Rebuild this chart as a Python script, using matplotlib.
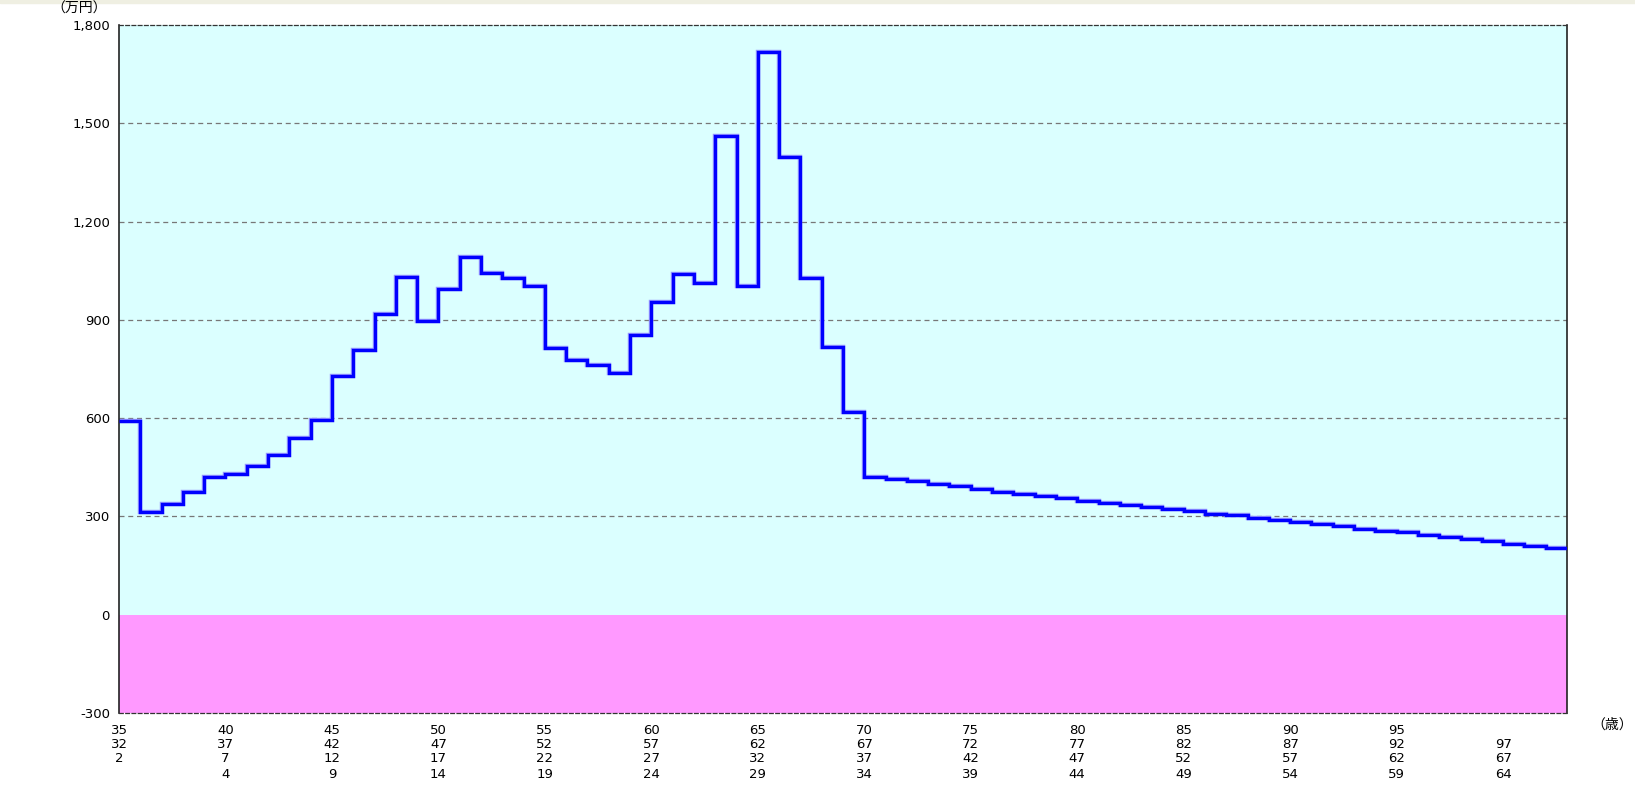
import numpy as np
import matplotlib
matplotlib.use("Agg")
import matplotlib.pyplot as plt
from matplotlib.patches import Rectangle

# ages (one step per year, 35 .. 102)
ages = np.arange(35, 103)
amounts = [590, 315, 337, 375, 420, 428, 454, 488, 538, 594,
           729, 808, 917, 1030, 895, 993, 1093, 1042, 1027, 1003,
           813, 778, 762, 737, 854, 953, 1039, 1012, 1462, 1003,
           1717, 1396, 1027, 818, 618, 420, 414, 409, 400, 393,
           384, 375, 368, 363, 357, 346, 341, 335, 329, 324,
           317, 306, 304, 296, 289, 283, 277, 271, 261, 256,
           251, 244, 236, 230, 224, 215, 209, 203]

# x labels, 4 rows under the axis
tick_pos = [35, 40, 45, 50, 55, 60, 65, 70, 75, 80, 85, 90, 95, 100]
row1 = ["35", "40", "45", "50", "55", "60", "65", "70", "75", "80", "85", "90", "95", ""]
row2 = ["32", "37", "42", "47", "52", "57", "62", "67", "72", "77", "82", "87", "92", "97"]
row3 = ["2", "7", "12", "17", "22", "27", "32", "37", "42", "47", "52", "57", "62", "67"]
row4 = ["", "4", "9", "14", "19", "24", "29", "34", "39", "44", "49", "54", "59", "64"]

yticks = [-300, 0, 300, 600, 900, 1200, 1500, 1800]

W, H = 1635, 785
fig = plt.figure(figsize=(W / 100, H / 100), dpi=100)
fig.patches.append(Rectangle((0, 1 - 3 / H), 1, 3 / H, transform=fig.transFigure,
                             color="#efefe2", zorder=0))

L, R, T, B = 119, 1567, 25, 713
ax = fig.add_axes([L / W, (H - B) / H, (R - L) / W, (B - T) / H])

edges = np.append(ages, ages[-1] + 1)
ax.set_xlim(edges[0], edges[-1])
ax.set_ylim(-300, 1800)

ax.axhspan(0, 1800, color="#dbffff", zorder=0, lw=0)
ax.axhspan(-300, 0, color="#ff99ff", zorder=0, lw=0)
for y in [300, 600, 900, 1200, 1500]:
    ax.axhline(y, color="#777777", lw=0.9, ls=(0, (4, 3)), zorder=1)

ax.stairs(amounts, edges, baseline=None, color="#9999ff", lw=3.2, zorder=2)
ax.stairs(amounts, edges, baseline=None, color="#0000ff", lw=2.4, zorder=3)

ax.set_xticks([])
ax.set_yticks(yticks)
ax.set_yticklabels([f"{v:,}" for v in yticks], fontsize=9.5, family="DejaVu Sans")
ax.tick_params(axis="y", length=0, pad=6.5)

for s in ["left", "right"]:
    ax.spines[s].set_color("#222222")
    ax.spines[s].set_linewidth(1.2)
for s in ["top", "bottom"]:
    ax.spines[s].set_color("#333333")
    ax.spines[s].set_linewidth(0.9)
    ax.spines[s].set_linestyle((0, (3, 2)))

tr = ax.get_xaxis_transform()
row_y = [730, 744, 759, 774]
for rows, yp in zip([row1, row2, row3, row4], row_y):
    yy = (B - yp) / (B - T)
    for x, lab in zip(tick_pos, rows):
        if lab:
            ax.text(x, yy, lab, transform=tr, ha="center", va="center",
                    fontsize=9.5, family="DejaVu Sans", clip_on=False)

fig.text(79 / W, 1 - 9 / H, "（万円）", ha="center", va="center", fontsize=10,
         family=["Noto Sans CJK JP", "DejaVu Sans"])
fig.text(1612 / W, 1 - 725 / H, "（歳）", ha="center", va="center", fontsize=10,
         family=["Noto Sans CJK JP", "DejaVu Sans"])

fig.savefig("out.png", dpi=100, facecolor="white")
